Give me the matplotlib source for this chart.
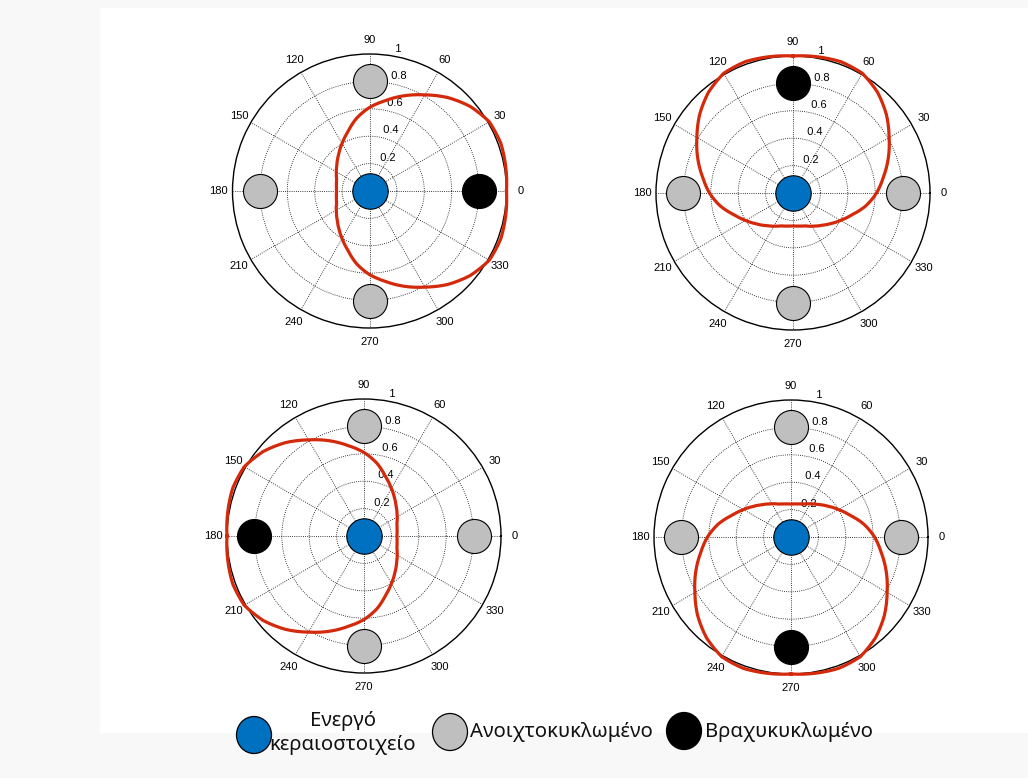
import numpy as np
import matplotlib
matplotlib.use("Agg")
import matplotlib.pyplot as plt
from matplotlib.patches import Ellipse, Rectangle

# ---------------- data ----------------
ANGLE_TICKS = [0, 30, 60, 90, 120, 150, 180, 210, 240, 270, 300, 330]
RADIAL_TICKS = [0.2, 0.4, 0.6, 0.8, 1.0]
RADIAL_LABELS = ["0.2", "0.4", "0.6", "0.8", "1"]
ELEMENT_ANGLES = [0, 90, 180, 270]
ELEMENT_RADIUS = 0.8
SHORTED_DIRECTION = [0, 90, 180, 270]          # panels: TL, TR, BL, BR
# normalised pattern, relative angle from the short-circuited element (symmetric)
PATTERN_REL_DEG = [0, 10, 20, 30, 40, 50, 60, 70, 80, 90,
                   100, 110, 120, 130, 140, 150, 160, 170, 180]
PATTERN_R = [1.00, 1.01, 1.02, 1.01, 0.96, 0.89, 0.81, 0.74, 0.67, 0.61,
             0.54, 0.46, 0.40, 0.35, 0.31, 0.28, 0.255, 0.245, 0.24]
LEGEND_LABELS = ["Ενεργό\nκεραιοστοιχείο", "Ανοιχτοκυκλωμένο", "Βραχυκυκλωμένο"]

# ---------------- style / layout ----------------
W, H = 1028, 778
C_ACTIVE = "#0070C0"
C_OPEN = "#BFBFBF"
C_SHORT = "#000000"
C_PATTERN = "#D4290B"
PANEL_CENTERS = [(369.5, 191), (793, 193), (364, 536), (791, 537)]
R_PX = 137

fig = plt.figure(figsize=(W / 100, H / 100), dpi=100, facecolor="#f8f8f8")
fig.patches.append(Rectangle((100 / W, (H - 733) / H), 928 / W, (733 - 8) / H,
                             transform=fig.transFigure, facecolor="white",
                             edgecolor="none", zorder=-10))

rel = np.array(PATTERN_REL_DEG, dtype=float)
rr = np.array(PATTERN_R, dtype=float)
rel_full = np.concatenate([rel, 360 - rel[::-1][1:]])
r_full = np.concatenate([rr, rr[::-1][1:]])

for (cx, cy), direction in zip(PANEL_CENTERS, SHORTED_DIRECTION):
    ax = fig.add_axes([(cx - R_PX) / W, (H - cy - R_PX) / H, 2 * R_PX / W, 2 * R_PX / H],
                      projection="polar")
    ax.set_ylim(0, 1)
    ax.set_thetagrids(ANGLE_TICKS, labels=[""] * len(ANGLE_TICKS))
    ax.set_rgrids(RADIAL_TICKS[:-1], labels=[""] * (len(RADIAL_TICKS) - 1))
    ax.grid(True, color="black", linestyle=(0, (1, 1.6)), linewidth=0.6)
    ax.spines["polar"].set_linewidth(1.0)
    ax.tick_params(length=0, pad=0)
    ax.set_facecolor("white")

    for a in ANGLE_TICKS:
        ax.text(np.deg2rad(a), 1.1, str(a), ha="center", va="center",
                fontsize=8, family="Liberation Sans", clip_on=False)
    for r, lab in zip(RADIAL_TICKS, RADIAL_LABELS):
        ax.text(np.deg2rad(82), r + 0.01, "  " + lab, ha="left", va="bottom",
                fontsize=8, family="Liberation Sans", clip_on=False, zorder=2)

    for a in ELEMENT_ANGLES:
        col = C_SHORT if a == direction else C_OPEN
        ax.plot([np.deg2rad(a)], [ELEMENT_RADIUS], "o", ms=24.5, mfc=col,
                mec="black", mew=0.8, zorder=3, clip_on=False)
    ax.plot([0], [0], "o", ms=25.5, mfc=C_ACTIVE, mec="black", mew=0.8,
            zorder=3, clip_on=False)

    line, = ax.plot(np.deg2rad(direction + rel_full), r_full, color=C_PATTERN,
                    lw=2.3, zorder=4, clip_on=False, solid_joinstyle="round")
    # let the polar transform draw each segment as a curve in (theta, r) space
    line.get_path()._interpolation_steps = 12

# ---------------- legend ----------------
leg_items = [(254, 735, C_ACTIVE), (450, 732, C_OPEN), (684, 731, C_SHORT)]
for (x, y, col) in leg_items:
    fig.patches.append(Ellipse((x / W, (H - y) / H), 35 / W, 37 / H,
                               transform=fig.transFigure, facecolor=col,
                               edgecolor="black", linewidth=0.9, zorder=3))
gfont = dict(family=["Noto Sans", "DejaVu Sans"], fontsize=14.6, color="#111111")
l1, l2 = LEGEND_LABELS[0].split("\n")
fig.text(343 / W, (H - 721) / H, l1, ha="center", va="center", **gfont)
fig.text(343 / W, (H - 745) / H, l2, ha="center", va="center", **gfont)
fig.text(470 / W, (H - 732) / H, LEGEND_LABELS[1], ha="left", va="center", **gfont)
fig.text(705 / W, (H - 732) / H, LEGEND_LABELS[2], ha="left", va="center", **gfont)

fig.savefig("out.png", dpi=100, facecolor=fig.get_facecolor())
